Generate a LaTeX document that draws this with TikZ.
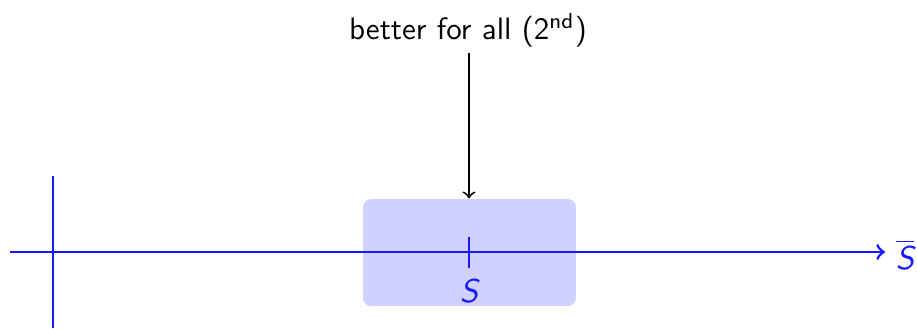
\documentclass[tikz,border=0pt]{standalone}
\renewcommand{\familydefault}{\sfdefault}
\begin{document}
\begin{tikzpicture}[x=0.3226pt,y=-0.3226pt,
  axisline/.style={draw=blue!90!white, line width=0.9pt},
  hilite/.style={fill=blue!18, draw=none, rounded corners=2.6pt, minimum width=68.7pt, minimum height=34.5pt, inner sep=0pt},
  bluelabel/.style={text=blue!90!white, font=\fontsize{10.6}{12}\selectfont\slshape, inner sep=0pt},
  pointer/.style={draw=black, line width=0.6pt, -to}]
\useasboundingbox (0,0) rectangle (917,329);
\node[hilite] (box) at (469.5,252.5) {};
\node (t) at (468,30) {better for all (2\textsuperscript{nd})};
\draw[pointer] (469,53) coordinate (p0) -- (box.north -| p0);
\coordinate (a0) at (10,252);
\coordinate (a1) at (885,252);
\draw[axisline,->] (a0) -- (a1);
\node[bluelabel] (sbar) at (905,255) {$\overline{\mbox{\fontsize{10.6}{12}\selectfont\slshape S}}$};
\coordinate (v0) at (53,176);
\coordinate (v1) at (53,328);
\draw[axisline] (v0) -- (v1);
\coordinate (k0) at (469,237);
\coordinate (k1) at (469,268);
\draw[axisline] (k0) -- (k1);
\node[bluelabel] (s) at (469,291) {S};
\end{tikzpicture}
\end{document}
